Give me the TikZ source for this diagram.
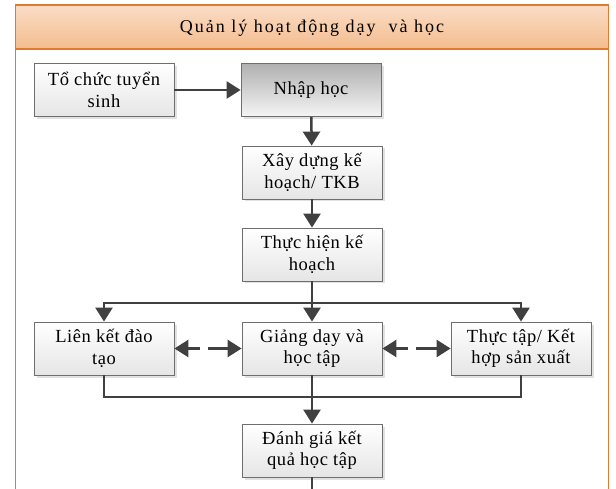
\documentclass[tikz,border=0pt]{standalone}
\usepackage{fontspec}
\setmainfont{Liberation Serif}[LetterSpace=3]
\newfontfamily\titlefont{Liberation Serif}[LetterSpace=11]
\usetikzlibrary{arrows.meta,shadows}

\definecolor{frameorange}{HTML}{E07A30}
\definecolor{headtop}{HTML}{FADDC6}
\definecolor{headmid}{HTML}{EA9048}
\definecolor{headbot}{HTML}{F4BC8E}
\definecolor{boxline}{HTML}{6E6E6E}
\definecolor{arrowgray}{HTML}{404040}

\tikzset{
  x=1pt, y=1pt,
  stepbox/.style={draw=boxline, line width=0.8pt, minimum width=140pt, minimum height=53pt,
    align=center, font=\fontsize{18.5}{21.5}\selectfont, inner sep=2pt,
    top color=white, bottom color=gray!20,
    drop shadow={shadow xshift=2.5pt, shadow yshift=-2.5pt, fill=gray!30, opacity=0.8}},
  darkbox/.style={stepbox, top color=gray!62, bottom color=gray!8},
  flow/.style={draw=arrowgray, line width=2.5pt, -{Triangle[length=14pt, width=17pt]}},
  link/.style={draw=arrowgray, line width=2.5pt},
  twoway/.style={draw=arrowgray, line width=2.5pt,
    {Triangle[length=14pt, width=17pt]}-{Triangle[length=14pt, width=17pt]},
    dash pattern=on 12pt off 8pt on 40pt},
}

\begin{document}
\begin{tikzpicture}
  \useasboundingbox (0,0) rectangle (616,488);
  \clip (0,0) rectangle (616,488);

  % outer frame with header band
  \draw[frameorange, line width=1.3pt] (15.5,-10) rectangle (608.5,483);
  \draw[frameorange, line width=1.3pt, top color=headtop, middle color=headmid, bottom color=headbot]
    (15.5,439) rectangle (608.5,483);
  \node[font=\titlefont\fontsize{18}{20}\selectfont] (title) at (312,460) {Quản lý hoạt động dạy\ \ và học};

  % process steps
  \node[stepbox] (tochuc)   at (104,398)   {Tổ chức tuyển\\sinh};
  \node[darkbox] (nhaphoc)  at (311,398)   {Nhập học};
  \node[stepbox] (xaydung)  at (312,315.5) {Xây dựng kế\\hoạch/ TKB};
  \node[stepbox] (thuchien) at (312,233.5) {Thực hiện kế\\hoạch};
  \node[stepbox] (lienket)  at (104,139.5) {Liên kết đào\\tạo};
  \node[stepbox] (giangday) at (312,139.5) {Giảng dạy và\\học tập};
  \node[stepbox] (thuctap)  at (521,139.5) {Thực tập/ Kết\\hợp sản xuất};
  \node[stepbox] (danhgia)  at (312,37.5)  {Đánh giá kết\\quả học tập};

  \coordinate (split) at (312,185);
  \coordinate (merge) at (312,91);
  \coordinate (out) at (312,-5);

  % connectors
  \draw[flow] (tochuc) -- (nhaphoc);
  \draw[flow] (nhaphoc) -- (xaydung);
  \draw[flow] (xaydung) -- (thuchien);
  \draw[link] (thuchien) -- (split);
  \draw[flow] (split) -| (lienket);
  \draw[flow] (split) -| (thuctap);
  \draw[flow] (split) -- (giangday);
  \draw[twoway] (lienket) -- (giangday);
  \draw[twoway] (giangday) -- (thuctap);
  \draw[link] (lienket) |- (merge);
  \draw[link] (thuctap) |- (merge);
  \draw[link] (giangday) -- (merge);
  \draw[flow] (merge) -- (danhgia);
  \draw[link] (danhgia) -- (out);
\end{tikzpicture}
\end{document}
